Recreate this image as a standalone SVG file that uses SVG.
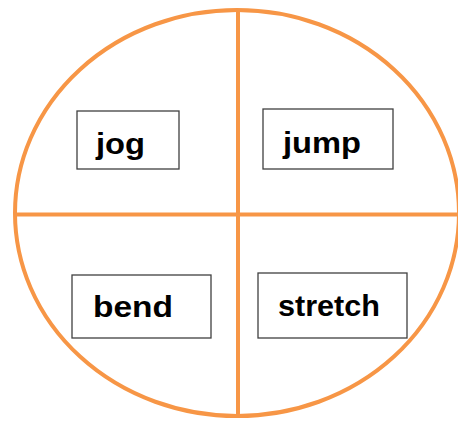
<svg xmlns="http://www.w3.org/2000/svg" width="458" height="423" viewBox="0 0 458 423">
<style>
.ring{fill:none;stroke:#F79646;stroke-width:4}
.div{stroke:#F79646;stroke-width:4}
.box{fill:#fff;stroke:#404040;stroke-width:1.3}
.lbl{font-family:"Liberation Sans",Arial,sans-serif;font-weight:bold;font-size:30px;fill:#000}
</style>
<rect width="458" height="423" fill="#fff"/>
<g id="connectors">
<ellipse class="ring" cx="237" cy="213" rx="222" ry="203"/>
<line class="div" x1="238" y1="10" x2="238" y2="417"/>
<line class="div" x1="14" y1="214.5" x2="458" y2="214.5"/>
</g>
<g id="jog"><rect class="box" x="77" y="111" width="102" height="58"/><text class="lbl" x="96" y="154" textLength="49" lengthAdjust="spacingAndGlyphs">jog</text></g>
<g id="jump"><rect class="box" x="263" y="109" width="130" height="60"/><text class="lbl" x="283" y="153" textLength="78" lengthAdjust="spacingAndGlyphs">jump</text></g>
<g id="bend"><rect class="box" x="72" y="275" width="139" height="63"/><text class="lbl" x="93" y="317" textLength="80" lengthAdjust="spacingAndGlyphs">bend</text></g>
<g id="stretch"><rect class="box" x="258" y="273" width="149" height="65"/><text class="lbl" x="278" y="316" textLength="102" lengthAdjust="spacingAndGlyphs">stretch</text></g>
</svg>
